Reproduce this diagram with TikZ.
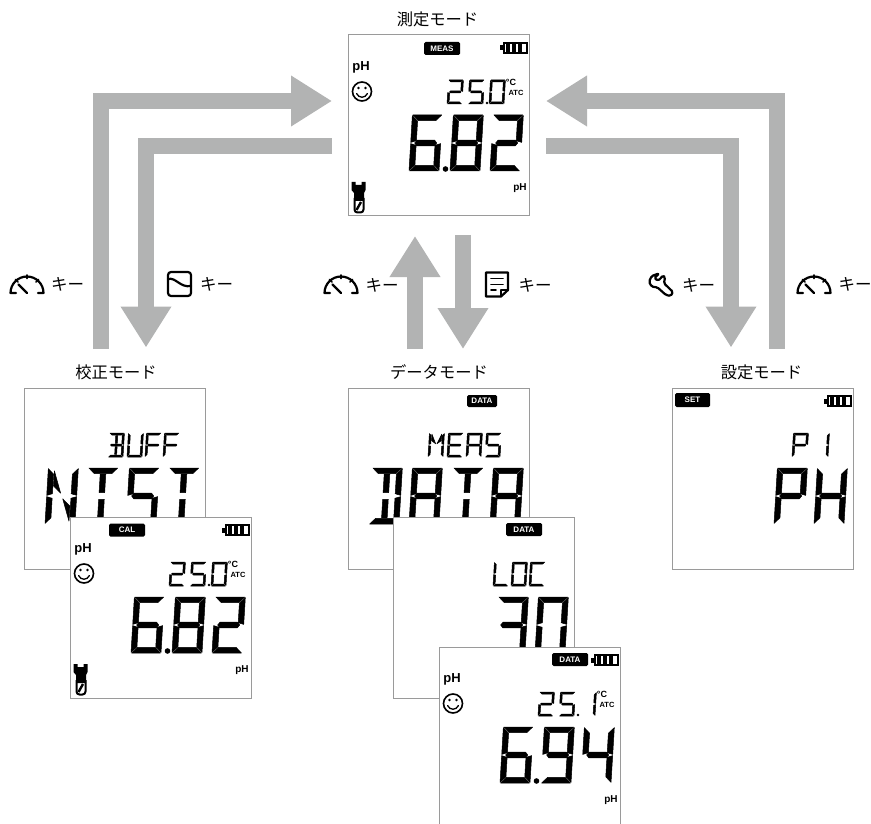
\documentclass[tikz,border=0pt]{standalone}
\usepackage{fontspec}
\setmainfont{Liberation Sans}
\newfontfamily\cjk{Noto Sans CJK JP}
\usetikzlibrary{arrows.meta}
\definecolor{keygray}{HTML}{B2B3B3}
\definecolor{framegray}{HTML}{9A9A9A}
\tikzset{
  lcdscreen/.style={draw=framegray,line width=1pt,fill=white,minimum size=181pt,inner sep=0pt},
  keyarrow/.style={draw=keygray,line width=16pt,-{Triangle[length=41pt,width=48pt]}},
  modelabel/.style={font=\cjk\fontsize{16.3}{17}\selectfont,inner sep=0pt},
  keylabel/.style={font=\cjk\fontsize{16.5}{17}\selectfont,inner sep=0pt},
  lcdtag/.style={fill=black,text=white,rounded corners=1.5pt,inner sep=0pt,minimum height=13pt,font=\bfseries\fontsize{8}{8}\selectfont},
  lcdtext/.style={inner sep=0pt,font=\bfseries\fontsize{#1}{#1}\selectfont},
  iconline/.style={line width=2.2pt,line cap=round,line join=round}
}
% segments of one character, unit box, bottom left is (0,0)
\newcommand{\lcda}{\fill (\gx,1) -- ({1-\gx},1) -- ({1-\gx-\tx},{1-\ty}) -- ({\gx+\tx},{1-\ty}) -- cycle;}
\newcommand{\lcdd}{\fill (\gx,0) -- ({1-\gx},0) -- ({1-\gx-\tx},\ty) -- ({\gx+\tx},\ty) -- cycle;}
\newcommand{\lcdg}{\fill ({\gx+\tx*.6},.5) -- ({\gx+\tx},{.5+\ty/2}) -- ({1-\gx-\tx},{.5+\ty/2}) -- ({1-\gx-\tx*.6},.5) -- ({1-\gx-\tx},{.5-\ty/2}) -- ({\gx+\tx},{.5-\ty/2}) -- cycle;}
\newcommand{\lcdf}{\fill (0,{.5+\gy}) -- (0,{1-\gy}) -- (\tx,{1-\ty-\gy}) -- (\tx,{.5+\ty*.3+\gy}) -- cycle;}
\newcommand{\lcde}{\fill (0,{.5-\gy}) -- (0,\gy) -- (\tx,{\ty+\gy}) -- (\tx,{.5-\ty*.3-\gy}) -- cycle;}
\newcommand{\lcdb}{\fill (1,{.5+\gy}) -- (1,{1-\gy}) -- ({1-\tx},{1-\ty-\gy}) -- ({1-\tx},{.5+\ty*.3+\gy}) -- cycle;}
\newcommand{\lcdc}{\fill (1,{.5-\gy}) -- (1,\gy) -- ({1-\tx},{\ty+\gy}) -- ({1-\tx},{.5-\ty*.3-\gy}) -- cycle;}
\newcommand{\lcdi}{\fill ({.5-\tx/2},{1-\ty-\gy}) rectangle ({.5+\tx/2},{.5+\ty/2+\gy});}
\newcommand{\lcdj}{\fill ({.5-\tx/2},{\ty+\gy}) rectangle ({.5+\tx/2},{.5-\ty/2-\gy});}
\newcommand{\lcdk}{\fill ({\tx+\gx},.95) -- ({\tx+\gx},.68) -- (.46,.55) -- cycle;}
\newcommand{\lcdl}{\fill ({1-\tx-\gx},.05) -- ({1-\tx-\gx},.32) -- (.54,.45) -- cycle;}
\newcommand{\lcdm}{\fill ({1-\tx-\gx},.95) -- ({1-\tx-\gx},.68) -- (.54,.55) -- cycle;}
% x, bottom y, width, height, thickness, segments
\newcommand{\lcdchar}[6]{%
  \begin{scope}[shift={(#1,#2)},x=#3pt,y=#4pt,xslant=.06,every path/.style={draw=black,line width=.5pt,line join=round}]
    \pgfmathsetmacro{\tx}{#5/#3}\pgfmathsetmacro{\ty}{#5/#4}
    \pgfmathsetmacro{\gx}{.6/#3}\pgfmathsetmacro{\gy}{.6/#4}
    \foreach \s in {#6}{\csname lcd\s\endcsname}
  \end{scope}}
\newcommand{\bigchar}[2]{\lcdchar{#1}{136}{30}{56}{5.6}{#2}}
\newcommand{\smallchar}[2]{\lcdchar{#1}{69}{15}{24}{2}{#2}}
\newcommand{\lcdbattery}{%
  \fill (151.5,10.5) rectangle (155,15.5);
  \draw[line width=2pt] (155.5,7.8) rectangle (178.5,18.2);
  \foreach \x in {158,163.8,169.6}{\fill (\x,8) rectangle ++(4.2,10);}}
\newcommand{\lcdface}[1]{%
  \node[lcdtext=13] (#1pH) at (13,32) {pH};
  \coordinate (#1eye) at (14,56.5);
  \draw[line width=1.6pt] (#1eye) circle[radius=9.5pt];
  \fill (10.5,53) circle[radius=1.3pt] (17.5,53) circle[radius=1.3pt];
  \draw[line width=1.3pt,line cap=round] (8.5,58.5) .. controls (11,63.5) and (17,63.5) .. (19.5,58.5);}
\newcommand{\lcdunits}[1]{%
  \node[lcdtext=9] (#1deg) at (163,47) {°C};
  \node[lcdtext=7.5] (#1atc) at (168,58) {ATC};
  \node[lcdtext=10] (#1unit) at (172,153) {pH};}
\newcommand{\lcdprobe}{%
  \fill (3.5,147) -- (7.5,147) -- (7.5,150) -- (13.5,150) -- (13.5,147) -- (17.5,147) -- (17.5,155) -- (16,158) -- (16,166) -- (6,166) -- (6,158) -- (3.5,155) -- cycle;
  \draw[line width=2pt,rounded corners=3pt] (6.5,163) -- (6.5,177.5) -- (15.5,177.5) -- (15.5,163);
  \draw[line width=2.4pt] (8.5,175) -- (13,167);}
\newcommand{\gaugeicon}[1]{%
  \begin{scope}[shift={(#1,291)},iconline]
    \draw (-11,2) -- (-16.5,2) arc[start angle=180,end angle=0,radius=16.5pt] -- (11,2);
    \draw[line width=1.7pt] (0,-16) -- (0,-12.5) (-11.5,-11.5) -- (-9,-9) (11.5,-11.5) -- (9,-9);
    \draw (0,2) -- (-8.5,-6.5);
  \end{scope}}
\begin{document}
\begin{tikzpicture}[x=1pt,y=-1pt]
\useasboundingbox (0,0) rectangle (871,824);
% arrows
\coordinate (calFrom) at (101,349);
\coordinate (measInL) at (332,101);
\coordinate (measOutL) at (332,146.5);
\coordinate (calTo) at (146,347.5);
\coordinate (dataFrom) at (415,349);
\coordinate (measInB) at (415,236);
\coordinate (measOutB) at (463,235);
\coordinate (dataTo) at (463,349);
\coordinate (setFrom) at (776.5,349);
\coordinate (measInR) at (546,101);
\coordinate (measOutR) at (546,146.5);
\coordinate (setTo) at (731,347.5);
\draw[keyarrow] (calFrom) |- (measInL);
\draw[keyarrow] (measOutL) -| (calTo);
\draw[keyarrow] (dataFrom) -- (measInB);
\draw[keyarrow] (measOutB) -- (dataTo);
\draw[keyarrow] (setFrom) |- (measInR);
\draw[keyarrow] (measOutR) -| (setTo);
% mode names
\node[modelabel] (measName) at (437.5,19) {測定モード};
\node[modelabel] (calName) at (116,372) {校正モード};
\node[modelabel] (dataName) at (439,372) {データモード};
\node[modelabel] (setName) at (761.5,372) {設定モード};
% keys
\gaugeicon{27}
\node[keylabel] (keyA) at (67.5,284) {キー};
\draw[iconline,rounded corners=3pt] (168,272) rectangle (191,296);
\draw[iconline] (168,279) .. controls (176,277) and (180,288) .. (191,286);
\node[keylabel] (keyB) at (216.5,284.5) {キー};
\gaugeicon{341}
\node[keylabel] (keyC) at (382,285) {キー};
\draw[iconline] (486,272.5) -- (508,272.5) -- (508,290) -- (501,296.5) -- (486,296.5) -- cycle;
\draw[iconline,line width=1.6pt] (501,296) -- (501,290) -- (508,290) (491,278.5) -- (503,278.5) (491,284.5) -- (503,284.5) (491,290) -- (496,290);
\node[keylabel] (keyD) at (535,285) {キー};
\draw[iconline,rounded corners=1.5pt] (659.3,273.3) -- (651.7,276) -- (649,281.7) -- (651.7,286.7) -- (657.3,287.3) -- (666,295) -- (670.7,296) -- (673,292) -- (664,283.3) -- (665,277.3) -- (663.3,275.3) -- (658.3,280.7) -- (654.3,278.3) -- cycle;
\node[keylabel] (keyE) at (698.5,285) {キー};
\gaugeicon{814}
\node[keylabel] (keyF) at (855,284.5) {キー};
% measuring screen
\node[lcdscreen] (meas) at (438.5,125.5) {};
\begin{scope}[shift={(348,35)}]
  \node[lcdtag,minimum width=36pt] (measTag) at (94,13.5) {MEAS};
  \lcdbattery \lcdface{meas} \lcdunits{meas} \lcdprobe
  \smallchar{99}{a,b,g,e,d} \smallchar{120}{a,f,g,c,d} \smallchar{141}{a,b,c,d,e,f}
  \fill (139,68) circle[radius=1.3pt];
  \bigchar{61}{a,f,g,e,d,c} \bigchar{102}{a,b,c,d,e,f,g} \bigchar{142}{a,b,g,e,d}
  \fill (97.5,134) circle[radius=2.8pt];
\end{scope}
% calibration screens
\node[lcdscreen] (calA) at (114.5,478.5) {};
\begin{scope}[shift={(24,388)}]
  \smallchar{84}{a,b,c,d,g,i,j} \smallchar{103}{b,c,d,e,f} \smallchar{121}{a,e,f,g} \smallchar{139}{a,e,f,g}
  \bigchar{21}{b,c,e,f,k,l} \bigchar{61}{a,i,j} \bigchar{102}{a,f,g,c,d} \bigchar{142}{a,i,j}
\end{scope}
\node[lcdscreen] (calB) at (160.5,607.5) {};
\begin{scope}[shift={(70,517)}]
  \node[lcdtag,minimum width=36pt] (calTag) at (57,13) {CAL};
  \lcdbattery \lcdface{calB} \lcdunits{calB} \lcdprobe
  \smallchar{99}{a,b,g,e,d} \smallchar{120}{a,f,g,c,d} \smallchar{141}{a,b,c,d,e,f}
  \fill (139,68) circle[radius=1.3pt];
  \bigchar{61}{a,f,g,e,d,c} \bigchar{102}{a,b,c,d,e,f,g} \bigchar{142}{a,b,g,e,d}
  \fill (97.5,134) circle[radius=2.8pt];
\end{scope}
% data screens
\node[lcdscreen] (dataA) at (438.5,478.5) {};
\begin{scope}[shift={(348,388)}]
  \node[lcdtag,minimum width=30pt,minimum height=12pt] (dataTagA) at (134,13) {DATA};
  \smallchar{80}{b,c,e,f,k,m} \smallchar{99}{a,f,g,e,d} \smallchar{118}{a,b,c,e,f,g} \smallchar{137}{a,f,g,c,d}
  \bigchar{21}{a,b,c,d,i,j} \bigchar{61}{a,b,c,e,f,g} \bigchar{102}{a,i,j} \bigchar{142}{a,b,c,e,f,g}
\end{scope}
\node[lcdscreen] (dataB) at (483.5,607.5) {};
\begin{scope}[shift={(393,517)}]
  \node[lcdtag,minimum width=36pt] (dataTagB) at (131,12.5) {DATA};
  \smallchar{100}{e,f,d} \smallchar{118}{a,b,c,d,e,f} \smallchar{136}{a,f,e,d}
  \bigchar{102}{a,b,g,c,d} \bigchar{142}{a,b,c,d,e,f}
\end{scope}
\node[lcdscreen] (dataC) at (529.5,737.5) {};
\begin{scope}[shift={(439,647)}]
  \node[lcdtag,minimum width=36pt] (dataTagC) at (131,12.5) {DATA};
  \lcdbattery \lcdface{dataC} \lcdunits{dataC}
  \smallchar{99}{a,b,g,e,d} \smallchar{120}{a,f,g,c,d} \smallchar{141}{b,c}
  \fill (139,68) circle[radius=1.3pt];
  \bigchar{61}{a,f,g,e,d,c} \bigchar{102}{a,b,c,d,f,g} \bigchar{142}{f,g,b,c}
  \fill (97.5,134) circle[radius=2.8pt];
\end{scope}
% settings screen
\node[lcdscreen] (set) at (762.5,478.5) {};
\begin{scope}[shift={(672,388)}]
  \node[lcdtag,minimum width=35pt,minimum height=14pt] (setTag) at (20.5,12) {SET};
  \lcdbattery
  \smallchar{120}{a,b,e,f,g} \smallchar{141}{b,c}
  \bigchar{102}{a,b,e,f,g} \bigchar{142}{b,c,e,f,g}
\end{scope}
\end{tikzpicture}
\end{document}
